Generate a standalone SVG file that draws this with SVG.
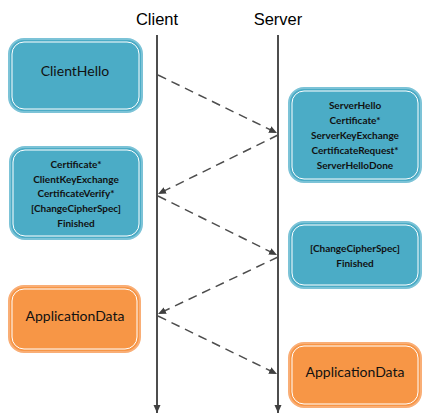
<svg xmlns="http://www.w3.org/2000/svg" width="433" height="419" viewBox="0 0 433 419">
<style>
.life{stroke:#4d4d4d;stroke-width:2;fill:none}
.msg{stroke:#4d4d4d;stroke-width:1.5;fill:none;stroke-dasharray:9 6}
.hdr{font-family:"Liberation Sans",Arial,sans-serif;font-size:16.5px;fill:#000;text-anchor:middle}
.blue{fill:#4bacc6;stroke:#7cc3d7;stroke-width:2}
.orange{fill:#f79646;stroke:#f9ae76;stroke-width:2}
.inner{fill:none;stroke:#ffffff;stroke-width:1}
.big{font-family:Lato,"Open Sans",sans-serif;font-size:14px;fill:#111;text-anchor:middle}
.small{font-family:Lato,"Open Sans",sans-serif;font-size:10px;font-weight:bold;fill:#111;text-anchor:middle}
</style>
<defs>
<marker id="ah" markerUnits="userSpaceOnUse" markerWidth="9" markerHeight="8" refX="8" refY="3.5" orient="auto">
<path d="M0,0 L8,3.5 L0,7 z" fill="#404040"/>
</marker>
<marker id="lh" markerUnits="userSpaceOnUse" markerWidth="9" markerHeight="8" refX="8" refY="3.5" orient="auto">
<path d="M0,0 L8,3.5 L0,7 z" fill="#404040"/>
</marker>
</defs>
<g id="lifelines">
<text class="hdr" x="157" y="25">Client</text>
<text class="hdr" x="278" y="25">Server</text>
<line class="life" x1="157" y1="35" x2="157" y2="413" marker-end="url(#lh)"/>
<line class="life" x1="278" y1="35" x2="278" y2="413" marker-end="url(#lh)"/>
</g>
<g id="connectors">
<line class="msg" x1="158" y1="75" x2="277" y2="133" marker-end="url(#ah)"/>
<line class="msg" x1="278" y1="135" x2="158" y2="194" marker-end="url(#ah)"/>
<line class="msg" x1="158" y1="196" x2="277" y2="255" marker-end="url(#ah)"/>
<line class="msg" x1="278" y1="257" x2="158" y2="314" marker-end="url(#ah)"/>
<line class="msg" x1="158" y1="316" x2="277" y2="374" marker-end="url(#ah)"/>
</g>
<g id="clientHello">
<rect class="blue" x="9" y="39" width="133" height="73" rx="15"/>
<rect class="inner" x="12" y="42" width="127" height="67" rx="12"/>
<text class="big" x="75" y="76">ClientHello</text>
</g>
<g id="serverHello">
<rect class="blue" x="289" y="88" width="132" height="94" rx="15"/>
<rect class="inner" x="292" y="91" width="126" height="88" rx="12"/>
<text class="small" x="355" y="108.5">ServerHello</text>
<text class="small" x="355" y="123.5">Certificate*</text>
<text class="small" x="355" y="138.5">ServerKeyExchange</text>
<text class="small" x="355" y="153.5">CertificateRequest*</text>
<text class="small" x="355" y="168.5">ServerHelloDone</text>
</g>
<g id="clientKeyExchange">
<rect class="blue" x="10" y="147" width="132" height="92" rx="15"/>
<rect class="inner" x="13" y="150" width="126" height="86" rx="12"/>
<text class="small" x="76" y="167.5">Certificate*</text>
<text class="small" x="76" y="182.5">ClientKeyExchange</text>
<text class="small" x="76" y="197">CertificateVerify*</text>
<text class="small" x="76" y="211.5">[ChangeCipherSpec]</text>
<text class="small" x="76" y="226.5">Finished</text>
</g>
<g id="serverFinished">
<rect class="blue" x="289" y="222" width="132" height="66" rx="15"/>
<rect class="inner" x="292" y="225" width="126" height="60" rx="12"/>
<text class="small" x="355" y="251.5">[ChangeCipherSpec]</text>
<text class="small" x="355" y="266.5">Finished</text>
</g>
<g id="clientAppData">
<rect class="orange" x="9" y="286" width="131" height="66" rx="15"/>
<rect class="inner" x="12" y="289" width="125" height="60" rx="12"/>
<text class="big" x="75" y="321">ApplicationData</text>
</g>
<g id="serverAppData">
<rect class="orange" x="289" y="343" width="132" height="64" rx="15"/>
<rect class="inner" x="292" y="346" width="126" height="58" rx="12"/>
<text class="big" x="355" y="377">ApplicationData</text>
</g>
</svg>
